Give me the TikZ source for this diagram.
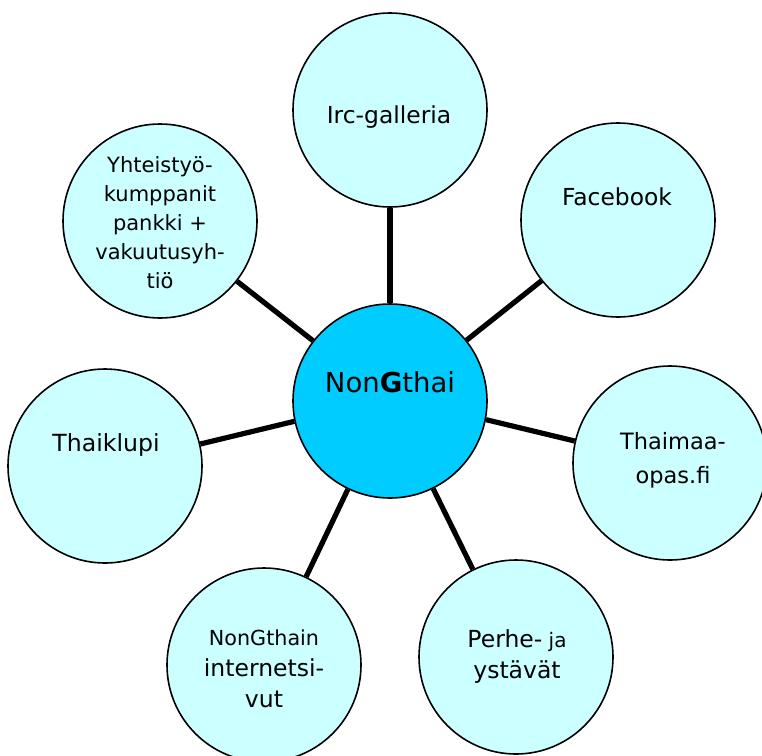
\documentclass[tikz,border=0pt]{standalone}
\usepackage{fontspec}
\setmainfont{DejaVu Sans}
\definecolor{bubfill}{HTML}{CCFFFF}
\definecolor{hubfill}{HTML}{00CCFF}
\tikzset{
  bub/.style={circle, draw=black, line width=1.6pt, fill=bubfill, minimum size=194pt, inner sep=0pt},
  hub/.style={bub, fill=hubfill},
  spoke/.style={line width=5.2pt, draw=black},
  txt/.style={anchor=base, inner sep=0pt, outer sep=0pt}
}
\newcommand{\fs}[2]{\fontsize{#1}{#2}\selectfont}
\newcommand{\lines}[1]{\begin{tabular}[t]{@{}c@{}}#1\end{tabular}}
\begin{document}
\begin{tikzpicture}[x=1pt,y=-1pt]
\useasboundingbox (0,0) rectangle (762,755);
% circles
\node[hub] (c)   at (390,401) {};
\node[bub] (irc) at (390,110) {};
\node[bub] (fb)  at (618,220) {};
\node[bub] (tm)  at (670,463) {};
\node[bub] (pj)  at (516,657) {};
\node[bub] (ng)  at (264,665) {};
\node[bub] (tk)  at (105,466) {};
\node[bub] (yh)  at (160,221) {};
% spokes
\draw[spoke] (irc.south) -- (c.north);
\draw[spoke] (fb) -- (c);
\draw[spoke] (yh) -- (c);
\draw[spoke] (pj) -- (c);
\draw[spoke] (ng) -- (c);
\draw[spoke] (tk.13.8) -- (c.192.5);
\draw[spoke] (tm.167.8) -- (c.-11.3);
% texts
\node[txt] (tc)   at (390,392) {\fs{27.5}{33}Non\textbf{G}thai};
\node[txt] (tirc) at (389,123) {\fs{23.4}{28}Irc-galleria};
\node[txt] (tfb)  at (617,205) {\fs{23.4}{28}Facebook};
\node[txt] (ttm)  at (673,449) {\fs{22.5}{34}\lines{Thaimaa-\\opas.fi}};
\node[txt] (tpj)  at (517,647) {\fs{23.5}{31.5}\lines{Perhe-{\fs{20}{31.5} ja}\\ystävät}};
\node[txt] (tng)  at (264,645) {\fs{23.5}{31}\lines{{\fs{20.7}{31}NonGthain}\\internetsi-\\vut}};
\node[txt] (ttk)  at (106,451) {\fs{23.6}{28}Thaiklupi};
\node[txt] (tyh)  at (160,172) {\fs{21}{29}\lines{Yhteistyö-\\kumppanit\\pankki +\\vakuutusyh-\\tiö}};
\end{tikzpicture}
\end{document}
